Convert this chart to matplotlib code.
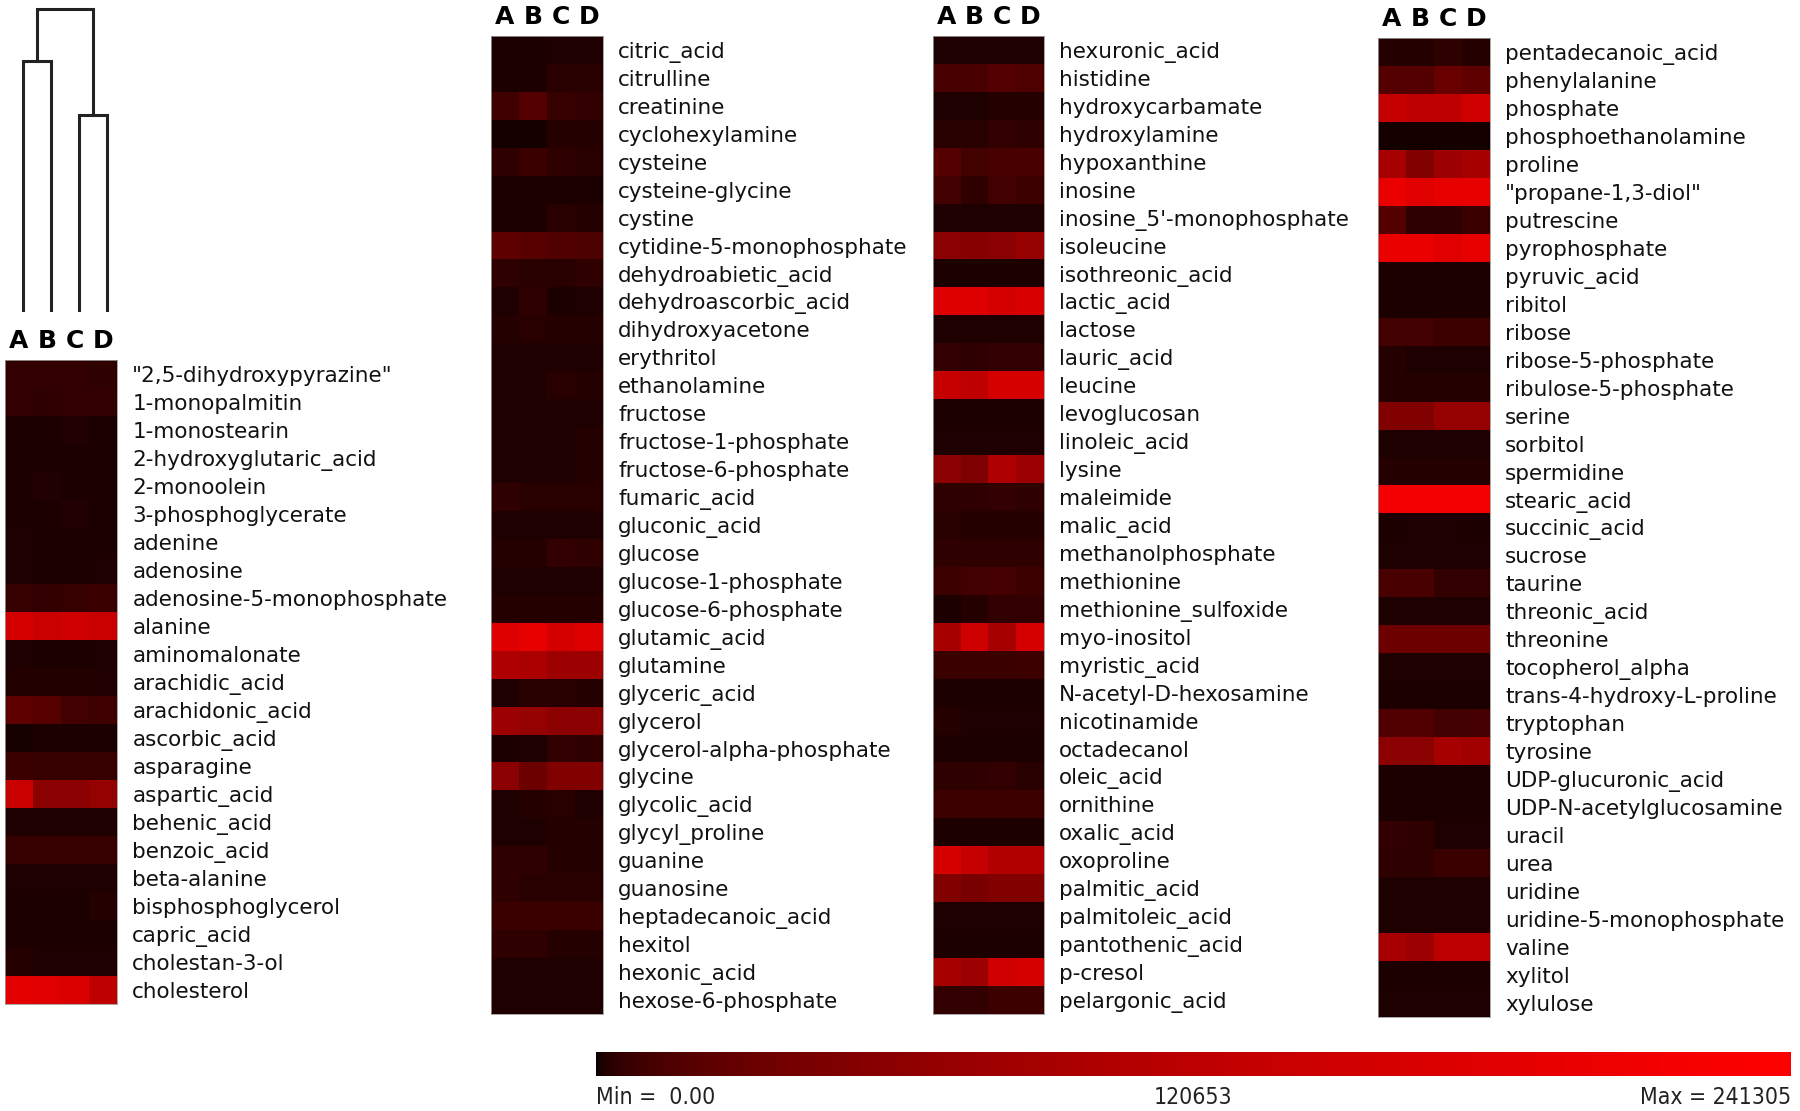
import numpy as np
import matplotlib.pyplot as plt
from matplotlib.colors import LinearSegmentedColormap, PowerNorm

W, H = 1800, 1111
samples = ['A', 'B', 'C', 'D']
vmin, vmax = 0.00, 241305
mid_label = 120653

# values, in thousands
names1 = ['"2,5-dihydroxypyrazine"', '1-monopalmitin', '1-monostearin', '2-hydroxyglutaric_acid',
          '2-monoolein', '3-phosphoglycerate', 'adenine', 'adenosine', 'adenosine-5-monophosphate',
          'alanine', 'aminomalonate', 'arachidic_acid', 'arachidonic_acid', 'ascorbic_acid',
          'asparagine', 'aspartic_acid', 'behenic_acid', 'benzoic_acid', 'beta-alanine',
          'bisphosphoglycerol', 'capric_acid', 'cholestan-3-ol', 'cholesterol']
vals1 = [[5, 5, 5, 4], [5, 4, 5, 5], [1, 1, 1.5, 1], [1, 1, 1, 1], [1, 1.5, 1, 1], [1, 1, 1.5, 1],
         [1.4, 1, 1, 1], [1.4, 1, 1, 1.4], [6, 5, 6, 7], [158, 140, 150, 140], [1.4, 1, 1, 1.4],
         [2, 2, 2, 1.5], [24, 19, 10, 9], [0.5, 1, 1, 1], [7, 6, 6, 6], [140, 60, 60, 70],
         [1.4, 1.4, 1.4, 1.4], [6, 6, 6, 6], [1.4, 1.4, 1.4, 1.4], [1, 1, 1, 2.3], [1, 1, 1, 1],
         [2.3, 1.4, 1.4, 1.4], [190, 180, 170, 125]]

names2 = ['citric_acid', 'citrulline', 'creatinine', 'cyclohexylamine', 'cysteine', 'cysteine-glycine',
          'cystine', 'cytidine-5-monophosphate', 'dehydroabietic_acid', 'dehydroascorbic_acid',
          'dihydroxyacetone', 'erythritol', 'ethanolamine', 'fructose', 'fructose-1-phosphate',
          'fructose-6-phosphate', 'fumaric_acid', 'gluconic_acid', 'glucose', 'glucose-1-phosphate',
          'glucose-6-phosphate', 'glutamic_acid', 'glutamine', 'glyceric_acid', 'glycerol',
          'glycerol-alpha-phosphate', 'glycine', 'glycolic_acid', 'glycyl_proline', 'guanine',
          'guanosine', 'heptadecanoic_acid', 'hexitol', 'hexonic_acid', 'hexose-6-phosphate']
vals2 = [[1, 1, 1.4, 1.4], [1, 1, 3, 3], [9, 18, 6, 5], [0.4, 0.4, 2.3, 2.3], [4, 7, 4, 3],
         [1, 1, 1, 1], [1, 1, 3, 2.3], [24, 19, 16, 14], [4, 3, 3, 4], [1.4, 4, 1, 1.4],
         [2.3, 3, 2.3, 2.3], [1.4, 1.4, 1.4, 1.4], [1.4, 1.4, 3, 2.3], [1.4, 1.4, 1.4, 1.4],
         [1.4, 1.4, 1.4, 2.3], [1.4, 1.4, 1.4, 2.3], [4, 3, 3, 3], [1.4, 1.4, 1.4, 1.4],
         [2.3, 2.3, 5, 4], [1.4, 1.4, 1.4, 1.4], [2.3, 2.3, 2.3, 2.3], [175, 191, 158, 175],
         [100, 95, 80, 80], [1.4, 3, 3, 2.3], [80, 70, 60, 60], [1, 1.4, 5, 4], [60, 33, 50, 50],
         [1.4, 2.3, 3, 1.4], [1.4, 1.4, 2.3, 2.3], [4, 4, 2.3, 2.3], [4, 3, 3, 3], [7, 7, 7, 7],
         [4, 4, 2.3, 2.3], [1.4, 1.4, 1.4, 1.4], [1.4, 1.4, 1.4, 1.4]]

names3 = ['hexuronic_acid', 'histidine', 'hydroxycarbamate', 'hydroxylamine', 'hypoxanthine', 'inosine',
          "inosine_5'-monophosphate", 'isoleucine', 'isothreonic_acid', 'lactic_acid', 'lactose',
          'lauric_acid', 'leucine', 'levoglucosan', 'linoleic_acid', 'lysine', 'maleimide', 'malic_acid',
          'methanolphosphate', 'methionine', 'methionine_sulfoxide', 'myo-inositol', 'myristic_acid',
          'N-acetyl-D-hexosamine', 'nicotinamide', 'octadecanol', 'oleic_acid', 'ornithine',
          'oxalic_acid', 'oxoproline', 'palmitic_acid', 'palmitoleic_acid', 'pantothenic_acid',
          'p-cresol', 'pelargonic_acid']
vals3 = [[1.4, 1.4, 1.4, 1.4], [13, 13, 18, 15], [1.4, 1.4, 2.3, 2.3], [3, 3, 5, 4], [18, 10, 13, 13],
         [10, 4, 10, 8], [1.4, 1.4, 1.4, 1.4], [60, 55, 60, 70], [1, 1, 1, 1], [175, 175, 158, 165],
         [1.4, 1.4, 1.4, 1.4], [5, 4, 5, 5], [135, 125, 160, 160], [1, 1, 1, 1], [1.4, 1.4, 1.4, 1.4],
         [60, 48, 100, 80], [4, 4, 5, 4], [3, 2.3, 2.3, 2.3], [4, 4, 4, 4], [8, 10, 11, 8],
         [1, 2.3, 5, 5], [90, 150, 90, 160], [7, 7, 7, 8], [1, 1, 1, 1], [2.3, 1.4, 1.4, 1.4],
         [1, 1, 1, 1], [4, 4, 5, 3], [8, 8, 8, 8], [1, 1, 1, 1], [160, 135, 105, 105],
         [50, 42, 50, 50], [1.4, 1.4, 1.4, 1.4], [1, 1, 1, 1], [90, 80, 150, 160], [5, 5, 8, 8]]

names4 = ['pentadecanoic_acid', 'phenylalanine', 'phosphate', 'phosphoethanolamine', 'proline',
          '"propane-1,3-diol"', 'putrescine', 'pyrophosphate', 'pyruvic_acid', 'ribitol', 'ribose',
          'ribose-5-phosphate', 'ribulose-5-phosphate', 'serine', 'sorbitol', 'spermidine',
          'stearic_acid', 'succinic_acid', 'sucrose', 'taurine', 'threonic_acid', 'threonine',
          'tocopherol_alpha', 'trans-4-hydroxy-L-proline', 'tryptophan', 'tyrosine',
          'UDP-glucuronic_acid', 'UDP-N-acetylglucosamine', 'uracil', 'urea', 'uridine',
          'uridine-5-monophosphate', 'valine', 'xylitol', 'xylulose']
vals4 = [[2.3, 2.3, 4, 2.3], [18, 18, 30, 24], [135, 125, 125, 150], [0.4, 0.4, 0.4, 0.4],
         [90, 50, 80, 90], [200, 180, 191, 191], [18, 4, 4, 7], [200, 200, 180, 191], [1, 1, 1, 1],
         [1, 1, 1, 1], [10, 10, 8, 8], [2.3, 1.4, 1.4, 1.4], [2.3, 2.3, 2.3, 2.3], [50, 50, 70, 70],
         [1.4, 1.4, 1.4, 1.4], [2.3, 2.3, 2.3, 2.3], [220, 220, 220, 220], [1, 1.4, 1.4, 1],
         [1.4, 1.4, 1.4, 1.4], [13, 13, 5, 5], [1.4, 1.4, 1.4, 1.4], [33, 33, 33, 33],
         [1.4, 1.4, 1.4, 1.4], [1, 1, 1, 1], [16, 16, 10, 11], [60, 60, 90, 85], [1, 1, 1, 1],
         [1, 1, 1, 1], [5, 4, 1.4, 1.4], [4, 4, 7, 7], [1.4, 1.4, 1.4, 1.4], [1.4, 1.4, 1.4, 1.4],
         [90, 80, 120, 120], [1, 1, 1, 1], [1.4, 1.4, 1.4, 1.4]]

# dendrogram over the samples: (left, right, height), nodes 4.. are merges
links = [(0, 1, 0.83), (2, 3, 0.65), (4, 5, 1.0)]

cmap = LinearSegmentedColormap.from_list('blackred', [(0.03, 0, 0), (1, 0, 0)])
norm = PowerNorm(gamma=0.45, vmin=vmin, vmax=vmax)

fig = plt.figure(figsize=(W / 100, H / 100), dpi=100)


def px_axes(x, y, w, h):
    return fig.add_axes([x / W, 1 - (y + h) / H, w / W, h / H])


def heat_panel(x, y, w, h, names, vals):
    ax = px_axes(x, y, w, h)
    data = np.array(vals) * 1000
    ax.imshow(data, cmap=cmap, norm=norm, aspect='auto', interpolation='nearest')
    ax.set_xticks(range(len(samples)))
    ax.set_xticklabels(samples, fontsize=18, fontweight='bold')
    ax.xaxis.tick_top()
    ax.set_yticks(range(len(names)))
    ax.set_yticklabels(names, fontsize=15.5, color='#111111')
    ax.yaxis.tick_right()
    ax.tick_params(axis='both', length=0)
    ax.tick_params(axis='y', pad=11)
    ax.tick_params(axis='x', pad=5)
    for s in ax.spines.values():
        s.set_color('#999999')
        s.set_linewidth(0.6)
    return ax


heat_panel(5, 360, 112, 644, names1, vals1)
heat_panel(491, 36, 112, 978, names2, vals2)
heat_panel(933, 36, 111, 978, names3, vals3)
heat_panel(1378, 38, 112, 979, names4, vals4)

# dendrogram
dax = px_axes(9, 0, 112, 312)
pos = {i: float(i) for i in range(len(samples))}
hgt = {i: 0.0 for i in range(len(samples))}
for k, (a, b, hh) in enumerate(links):
    dax.plot([pos[a], pos[a], pos[b], pos[b]], [hgt[a], hh, hh, hgt[b]], color='#222222', lw=2.2,
             solid_joinstyle='miter')
    node = len(samples) + k
    pos[node] = (pos[a] + pos[b]) / 2
    hgt[node] = hh
dax.set_xlim(-0.5, len(samples) - 0.5)
dax.set_ylim(0, 1.03)
dax.axis('off')

# colour scale
cax = px_axes(596, 1052, 1195, 24)
grad = np.linspace(vmin, vmax, 600)[None, :]
cax.imshow(grad, cmap=cmap, norm=norm, aspect='auto', interpolation='bilinear')
cax.set_xticks([])
cax.set_yticks([])
for s in cax.spines.values():
    s.set_visible(False)
lab_kw = dict(transform=cax.transAxes, va='top', fontsize=16.5, family='DejaVu Sans',
              fontstretch='condensed', color='#222222')
cax.text(0, -0.4, f'Min =  {vmin:.2f}', ha='left', **lab_kw)
cax.text(0.5, -0.4, f'{mid_label}', ha='center', **lab_kw)
cax.text(1, -0.4, f'Max = {vmax}', ha='right', **lab_kw)

fig.savefig('out.png', dpi=100, facecolor='white')
